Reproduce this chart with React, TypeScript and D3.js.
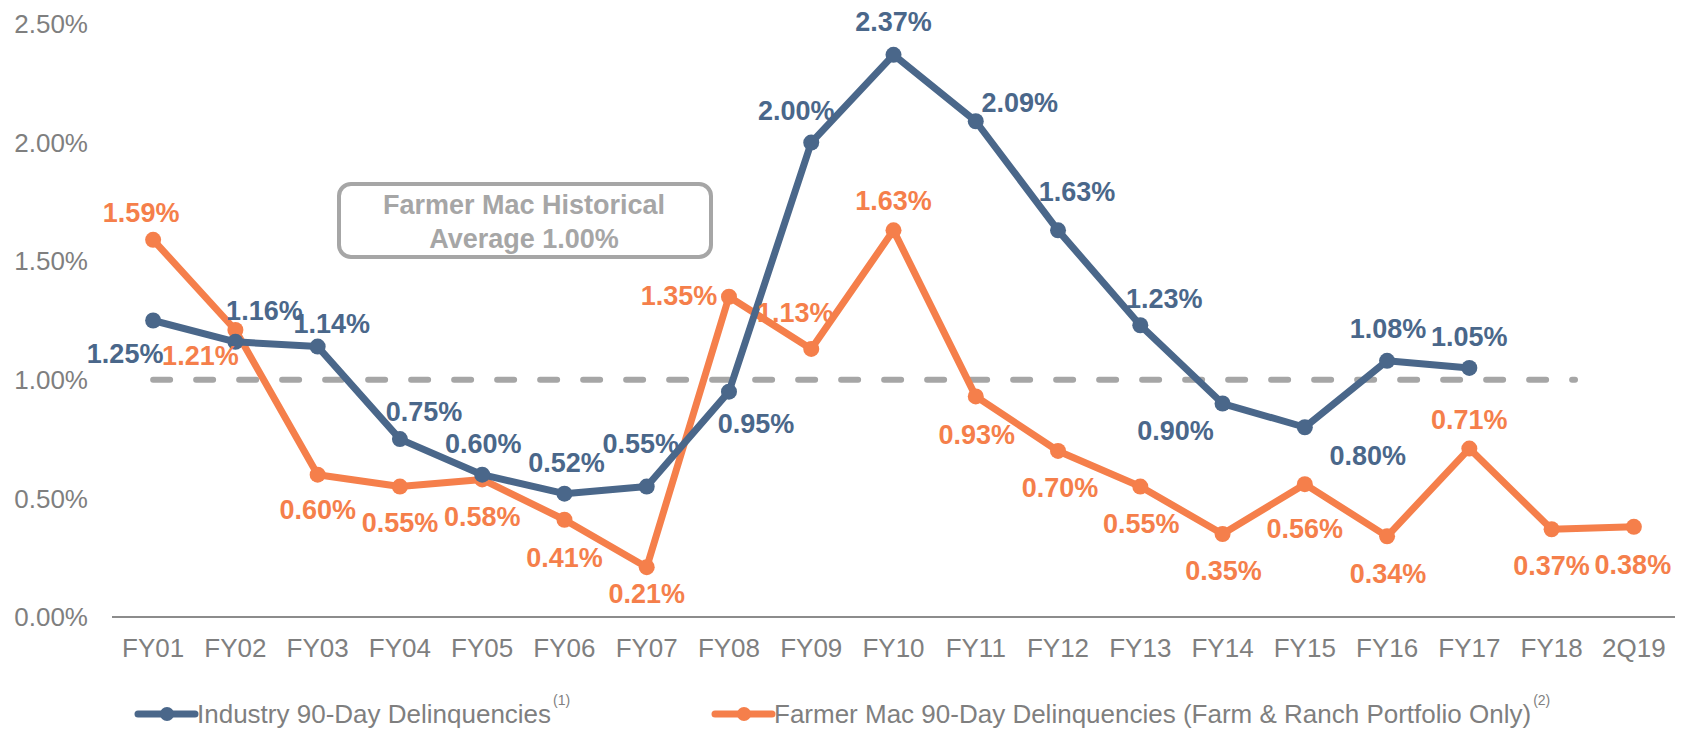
import React from "react";
import * as d3 from "d3";

const categories = ["FY01","FY02","FY03","FY04","FY05","FY06","FY07","FY08","FY09","FY10","FY11","FY12","FY13","FY14","FY15","FY16","FY17","FY18","2Q19"];
const industry = [1.25,1.16,1.14,0.75,0.60,0.52,0.55,0.95,2.00,2.37,2.09,1.63,1.23,0.90,0.80,1.08,1.05];
const farmerMac = [1.59,1.21,0.60,0.55,0.58,0.41,0.21,1.35,1.13,1.63,0.93,0.70,0.55,0.35,0.56,0.34,0.71,0.37,0.38];
const yTicks = [0, 0.5, 1.0, 1.5, 2.0, 2.5];
const historicalAverage = 1.0;
const seriesNames = ["Industry 90-Day Delinquencies", "Farmer Mac 90-Day Delinquencies (Farm & Ranch Portfolio Only)"];
const seriesNotes = ["(1)", "(2)"];
const boxLines = ["Farmer Mac Historical", "Average 1.00%"];

// label placement offsets (px) relative to each point
const industryLabelOffsets: [number, number][] = [[-28,33],[29,-31],[14,-23],[24,-28],[1,-31],[2,-31],[-6,-43],[27,32],[-15,-32],[0,-33],[44,-19],[19,-39],[24,-27],[-47,27],[63,28],[1,-32],[0,-31]];
const farmerLabelOffsets: [number, number][] = [[-12,-27],[-35,26],[0,35],[0,36],[0,37],[0,38],[0,26],[-50,-1],[-16,-36],[0,-30],[1,38],[2,37],[1,37],[1,37],[0,44],[1,37],[0,-29],[0,36],[-1,38]];

const BLUE = "#4a678a";
const ORANGE = "#f57f4b";
const GRAY_TEXT = "#7f7f7f";
const BOX_GRAY = "#a6a6a6";
const FONT = "'Liberation Sans', Arial, Helvetica, sans-serif";

export default function App() {
  const W = 1691, H = 733;
  const x = d3.scaleBand<string>().domain(categories).range([112, 1675]).paddingInner(0).paddingOuter(0);
  const y = d3.scaleLinear().domain([0, 2.5]).range([617, 24]);
  const cx = (c: string) => (x(c) as number) + x.bandwidth() / 2;
  const fmt = (v: number) => v.toFixed(2) + "%";

  const lineGen = d3.line<number>().x((_, i) => cx(categories[i])).y((d) => y(d));

  const legendY = 714;
  const legendItems = [
    { color: BLUE, x0: 138, name: seriesNames[0], note: seriesNotes[0] },
    { color: ORANGE, x0: 715, name: seriesNames[1], note: seriesNotes[1] },
  ];

  return (
    <svg width={W} height={H} style={{ position: "absolute", left: 0, top: 0, background: "#fff" }} fontFamily={FONT}>
      {/* y axis labels */}
      {yTicks.map((t) => (
        <text key={t} x={88} y={y(t)} dy="0.35em" textAnchor="end" fontSize={26} fill={GRAY_TEXT}>
          {fmt(t)}
        </text>
      ))}
      {/* baseline */}
      <line x1={112} x2={1675} y1={y(0)} y2={y(0)} stroke="#8c8c8c" strokeWidth={2} />
      {/* x labels */}
      {categories.map((c) => (
        <text key={c} x={cx(c)} y={657} textAnchor="middle" fontSize={26} fill={GRAY_TEXT}>
          {c}
        </text>
      ))}
      {/* historical average dashed line */}
      <line x1={cx(categories[0])} x2={1575} y1={y(historicalAverage)} y2={y(historicalAverage)}
        stroke={BOX_GRAY} strokeWidth={6} strokeDasharray="17 26" strokeLinecap="round" />
      {/* annotation box */}
      <rect x={339} y={184} width={372} height={73} rx={12} ry={12} fill="#fff" stroke={BOX_GRAY} strokeWidth={4} />
      {boxLines.map((l, i) => (
        <text key={l} x={524} y={214 + i * 34} textAnchor="middle" fontSize={27} fontWeight="bold" fill={BOX_GRAY}>
          {l}
        </text>
      ))}
      {/* lines */}
      <path d={lineGen(farmerMac) || ""} fill="none" stroke={ORANGE} strokeWidth={7} strokeLinejoin="round" />
      {farmerMac.map((v, i) => (
        <circle key={"fo" + i} cx={cx(categories[i])} cy={y(v)} r={8} fill={ORANGE} />
      ))}
      <path d={lineGen(industry) || ""} fill="none" stroke={BLUE} strokeWidth={7} strokeLinejoin="round" />
      {industry.map((v, i) => (
        <circle key={"in" + i} cx={cx(categories[i])} cy={y(v)} r={8} fill={BLUE} />
      ))}
      {/* labels */}
      {industry.map((v, i) => (
        <text key={"il" + i} x={cx(categories[i]) + industryLabelOffsets[i][0]} y={y(v) + industryLabelOffsets[i][1]}
          dy="0.35em" textAnchor="middle" fontSize={27} fontWeight="bold" fill={BLUE}>
          {fmt(v)}
        </text>
      ))}
      {farmerMac.map((v, i) => (
        <text key={"fl" + i} x={cx(categories[i]) + farmerLabelOffsets[i][0]} y={y(v) + farmerLabelOffsets[i][1]}
          dy="0.35em" textAnchor="middle" fontSize={27} fontWeight="bold" fill={ORANGE}>
          {fmt(v)}
        </text>
      ))}
      {/* legend */}
      {legendItems.map((it) => (
        <g key={it.name}>
          <line x1={it.x0} x2={it.x0 + 57} y1={legendY} y2={legendY} stroke={it.color} strokeWidth={7} strokeLinecap="round" />
          <circle cx={it.x0 + 29} cy={legendY} r={7} fill={it.color} />
          <text x={it.x0 + 59} y={legendY} dy="0.35em" fontSize={26} fill={GRAY_TEXT}>
            {it.name}
            <tspan fontSize={14} dy="-18" dx="2">{it.note}</tspan>
          </text>
        </g>
      ))}
    </svg>
  );
}
